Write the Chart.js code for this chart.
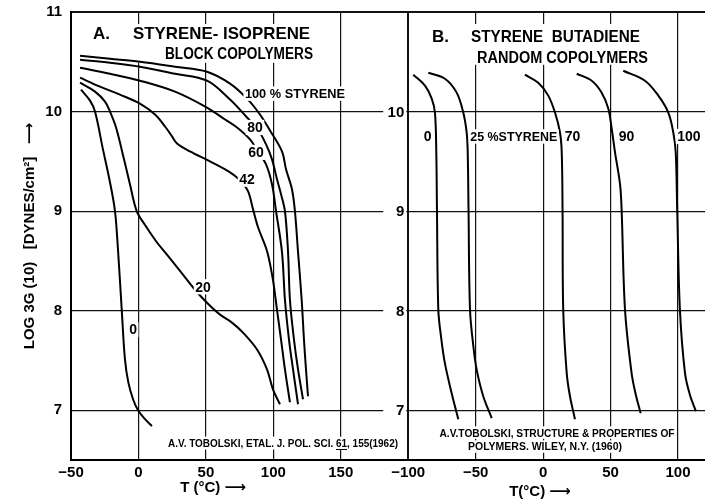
<!DOCTYPE html>
<html>

<head>
    <title>Modulus vs temperature, styrene copolymers</title>
    <script src="https://cdn.jsdelivr.net/npm/chart.js"></script>
    <style>
        body { margin: 0; background: #fff; }
        canvas { display: block; }
    </style>
</head>

<body>
    <canvas id="chart" width="705" height="503"></canvas>
    <script>
        // values: [T in degC, log 3G(10) in dynes/cm2]
        // A. styrene-isoprene block copolymers, by % styrene
        const block0 = [[-42.6, 10.22], [-35.9, 10.11], [-32.2, 10.00], [-26.3, 9.62], [-21.1, 9.29], [-17.4, 9.00], [-15.2, 8.62], [-12.4, 8.01], [-10.0, 7.51], [-7.5, 7.28], [-4.0, 7.11], [-0.3, 7.00], [4.9, 6.91], [10.0, 6.84]];
        const block20 = [[-43.3, 10.29], [-32.2, 10.20], [-24.8, 10.10], [-21.1, 10.00], [-16.6, 9.84], [-10.7, 9.52], [-6.3, 9.27], [-1.3, 9.00], [4.9, 8.86], [13.5, 8.69], [21.9, 8.55], [30.8, 8.40], [41.9, 8.21], [50.8, 8.08], [60.5, 7.96], [69.3, 7.88], [77.5, 7.78], [87.9, 7.61], [95.3, 7.41], [99.7, 7.21], [104.9, 7.06]];
        const block42 = [[-43.3, 10.34], [-28.5, 10.25], [-13.7, 10.17], [1.1, 10.08], [12.3, 9.97], [19.7, 9.85], [24.9, 9.75], [28.6, 9.68], [38.2, 9.60], [53.0, 9.50], [67.9, 9.39], [75.3, 9.31], [81.2, 9.20], [84.9, 9.02], [88.6, 8.84], [95.3, 8.60], [99.7, 8.31], [102.7, 8.01], [105.7, 7.71], [108.6, 7.41], [112.3, 7.08]];
        const block60 = [[-43.3, 10.44], [-21.1, 10.38], [1.1, 10.31], [27.1, 10.20], [50.8, 10.04], [64.2, 9.92], [73.1, 9.84], [82.7, 9.72], [88.6, 9.60], [94.6, 9.47], [99.0, 9.27], [102.0, 9.00], [106.4, 8.59], [108.6, 8.11], [111.6, 7.71], [114.6, 7.41], [118.3, 7.06]];
        const block80 = [[-43.3, 10.52], [-21.1, 10.49], [1.1, 10.45], [27.1, 10.38], [50.8, 10.31], [67.9, 10.12], [80.5, 9.94], [88.6, 9.82], [94.6, 9.67], [99.0, 9.52], [102.7, 9.32], [105.7, 9.17], [108.6, 9.00], [110.9, 8.59], [112.3, 8.11], [115.3, 7.71], [118.3, 7.41], [122.0, 7.11]];
        const block100 = [[-43.3, 10.56], [-21.1, 10.53], [1.1, 10.50], [27.1, 10.45], [50.8, 10.40], [67.9, 10.28], [81.2, 10.12], [90.1, 9.97], [97.5, 9.81], [106.4, 9.60], [109.4, 9.42], [113.8, 9.22], [116.0, 9.00], [118.3, 8.59], [121.0, 8.11], [122.7, 7.71], [124.2, 7.41], [125.7, 7.14]];
        const blockNames = ['0', '20', '42', '60', '80', '100'];

        // B. styrene-butadiene random copolymers, by % styrene
        const random0 = [[-96.3, 10.37], [-87.6, 10.26], [-82.6, 10.13], [-80.2, 9.99], [-79.2, 9.59], [-78.7, 9.01], [-77.7, 8.01], [-75.7, 7.74], [-72.8, 7.47], [-67.8, 7.17], [-62.9, 6.91]];
        const random25 = [[-85.1, 10.39], [-72.8, 10.33], [-64.1, 10.19], [-59.2, 9.99], [-56.7, 9.79], [-55.9, 9.59], [-55.3, 9.01], [-54.2, 8.01], [-51.7, 7.64], [-49.3, 7.41], [-44.4, 7.14], [-38.1, 6.92]];
        const random70 = [[-13.5, 10.37], [-3.6, 10.29], [3.8, 10.16], [8.8, 9.99], [12.5, 9.79], [13.8, 9.59], [14.4, 9.01], [14.9, 8.01], [17.5, 7.37], [19.9, 7.14], [23.6, 6.91]];
        const random90 = [[24.9, 10.38], [36.0, 10.31], [43.4, 10.19], [48.3, 10.03], [50.8, 9.83], [53.3, 9.59], [57.0, 9.27], [58.2, 9.01], [60.7, 8.01], [65.6, 7.37], [68.8, 7.15], [72.3, 6.97]];
        const random100 = [[59.4, 10.41], [75.5, 10.31], [85.4, 10.16], [92.8, 9.99], [96.5, 9.79], [98.3, 9.59], [99.4, 9.01], [101.4, 8.01], [105.2, 7.37], [108.9, 7.15], [113.3, 6.99]];
        const randomNames = ['0', '25', '70', '90', '100'];

        const xTicksA = [-50, 0, 50, 100, 150];
        const xTicksB = [-100, -50, 0, 50, 100];
        const yTicks = [7, 8, 9, 10, 11];

        // both panels share one x axis: panel B's -100 sits on panel A's 200
        const SHIFT_B = 300;
        const FONT = '"Liberation Sans", "DejaVu Sans", sans-serif';

        // text written on the plot, placed in data units of its panel
        const notes = [
            { panel: 'A', text: 'A.', t: -33.7, g: 10.79, size: 17 },
            { panel: 'A', text: 'STYRENE- ISOPRENE', t: -4.0, g: 10.79, size: 17, maxW: 177 },
            { panel: 'A', text: 'BLOCK COPOLYMERS', t: 19.7, g: 10.585, size: 16, maxW: 148 },
            { panel: 'A', text: '100 % STYRENE', t: 116, g: 10.18, size: 13, align: 'center', maxW: 100, box: true },
            { panel: 'A', text: '80', t: 86.4, g: 9.84, size: 14, align: 'center', box: true },
            { panel: 'A', text: '60', t: 87.1, g: 9.59, size: 14, align: 'center', box: true },
            { panel: 'A', text: '42', t: 80.5, g: 9.32, size: 14, align: 'center', box: true },
            { panel: 'A', text: '20', t: 47.9, g: 8.24, size: 14, align: 'center', box: true },
            { panel: 'A', text: '0', t: -4.0, g: 7.81, size: 14, align: 'center', box: true },
            { panel: 'A', text: 'A.V. TOBOLSKI, ETAL. J. POL. SCI. 61, 155(1962)', t: 21.9, g: 6.67, size: 11, maxW: 230, box: true, underline: '61' },
            { panel: 'A', text: 'T (°C) ⟶', t: 55.3, g: 6.23, size: 15, align: 'center' },
            { panel: 'B', text: 'B.', t: -82.4, g: 10.76, size: 17 },
            { panel: 'B', text: 'STYRENE  BUTADIENE', t: -53.5, g: 10.76, size: 17, maxW: 169 },
            { panel: 'B', text: 'RANDOM COPOLYMERS', t: -49.0, g: 10.54, size: 16, maxW: 171 },
            { panel: 'B', text: '0', t: -85.7, g: 9.75, size: 14, align: 'center', box: true },
            { panel: 'B', text: '25 %STYRENE', t: -54.0, g: 9.75, size: 13, maxW: 87, box: true },
            { panel: 'B', text: '70', t: 21.8, g: 9.75, size: 14, align: 'center', box: true },
            { panel: 'B', text: '90', t: 61.8, g: 9.75, size: 14, align: 'center', box: true },
            { panel: 'B', text: '100', t: 108.1, g: 9.75, size: 14, align: 'center', box: true },
            { panel: 'B', text: 'A.V.TOBOLSKI, STRUCTURE & PROPERTIES OF', t: 10.3, g: 6.775, size: 10.5, align: 'center', maxW: 235, box: true },
            { panel: 'B', text: 'POLYMERS. WILEY, N.Y. (1960)', t: 1.4, g: 6.635, size: 10.5, align: 'center', maxW: 154, box: true },
            { panel: 'B', text: 'T(°C) ⟶', t: -2.3, g: 6.19, size: 15, align: 'center' }
        ];
        // areas where the grid is left out behind the panel titles
        const blanks = [
            { panel: 'A', t0: -35, t1: 131, g0: 10.88, g1: 10.49 },
            { panel: 'B', t0: -86, t1: 80, g0: 10.88, g1: 10.47 }
        ];

        const tickLabel = v => {
            const n = v >= SHIFT_B + xTicksB[0] ? v - SHIFT_B : v;
            return n < 0 ? '\u2212' + Math.abs(n) : String(n);
        };

        const notesPlugin = {
            id: 'notes',
            beforeDatasetsDraw(chart) {
                const { ctx, scales: { x, y } } = chart;
                ctx.save();
                ctx.fillStyle = '#fff';
                blanks.forEach(b => {
                    const s = b.panel === 'B' ? SHIFT_B : 0;
                    const x0 = x.getPixelForValue(b.t0 + s), x1 = x.getPixelForValue(b.t1 + s);
                    const y0 = y.getPixelForValue(b.g0), y1 = y.getPixelForValue(b.g1);
                    ctx.fillRect(x0, y0, x1 - x0, y1 - y0);
                });
                ctx.restore();
            },
            afterDatasetsDraw(chart) {
                const { ctx, scales: { x, y } } = chart;
                ctx.save();
                ctx.textBaseline = 'middle';
                ctx.textAlign = 'left';

                // y labels repeated on the panel divider
                const xd = x.getPixelForValue(SHIFT_B + xTicksB[0]);
                ctx.font = 'bold 15px ' + FONT;
                yTicks.slice(0, -1).forEach(v => {
                    const py = y.getPixelForValue(v);
                    ctx.fillStyle = '#fff';
                    ctx.fillRect(xd - 25, py - 8, 23, 16);
                    ctx.fillStyle = '#000';
                    ctx.textAlign = 'right';
                    ctx.fillText(String(v), xd - 4, py + 1);
                });
                ctx.textAlign = 'left';

                notes.forEach(n => {
                    ctx.font = (n.weight || 'bold') + ' ' + n.size + 'px ' + FONT;
                    const s = n.panel === 'B' ? SHIFT_B : 0;
                    const px = x.getPixelForValue(n.t + s);
                    const py = y.getPixelForValue(n.g);
                    const natural = ctx.measureText(n.text).width;
                    const w = n.maxW ? Math.min(natural, n.maxW) : natural;
                    const k = w / natural;
                    const left = n.align === 'center' ? px - w / 2 : px;
                    const h = n.size * 0.8;
                    if (n.box) {
                        ctx.fillStyle = '#fff';
                        ctx.fillRect(left - 1.5, py - h / 2 - 2, w + 3, h + 4);
                    }
                    ctx.fillStyle = '#000';
                    ctx.fillText(n.text, left, py + 1, w);
                    if (n.underline) {
                        const i = n.text.indexOf(n.underline);
                        const u0 = left + ctx.measureText(n.text.slice(0, i)).width * k;
                        const uw = ctx.measureText(n.underline).width * k;
                        ctx.fillRect(u0, py + h / 2 + 1.5, uw, 1);
                    }
                });
                ctx.restore();
            }
        };

        const lineStyle = {
            showLine: true,
            pointRadius: 0,
            borderColor: '#000',
            borderWidth: 2,
            tension: 0.35,
            fill: false
        };

        const blockSeries = [block0, block20, block42, block60, block80, block100];
        const randomSeries = [random0, random25, random70, random90, random100];

        const datasets = [
            ...blockSeries.map((pts, i) => Object.assign({
                label: 'Block ' + blockNames[i] + '% styrene',
                data: pts.map(([t, g]) => ({ x: t, y: g }))
            }, lineStyle)),
            ...randomSeries.map((pts, i) => Object.assign({
                label: 'Random ' + randomNames[i] + '% styrene',
                data: pts.map(([t, g]) => ({ x: t + SHIFT_B, y: g }))
            }, lineStyle))
        ];

        const gridColor = '#111';

        new Chart(document.getElementById('chart'), {
            type: 'scatter',
            data: { datasets },
            options: {
                responsive: false,
                devicePixelRatio: 1,
                animation: false,
                layout: { padding: { top: 12, left: 0, right: 0, bottom: 0 } },
                plugins: {
                    legend: { display: false },
                    tooltip: { enabled: false }
                },
                scales: {
                    x: {
                        type: 'linear',
                        min: xTicksA[0],
                        max: SHIFT_B + 120,
                        afterBuildTicks: s => {
                            s.ticks = [...xTicksA, ...xTicksB.map(v => v + SHIFT_B)].map(v => ({ value: v }));
                        },
                        afterFit: s => { s.height = 43; },
                        grid: {
                            color: gridColor,
                            lineWidth: c => (c.tick && c.tick.value === SHIFT_B + xTicksB[0]) ? 2 : 1.2,
                            drawTicks: false
                        },
                        border: { color: '#000', width: 2 },
                        ticks: {
                            color: '#000',
                            padding: 4,
                            font: { family: FONT, size: 15, weight: 'bold' },
                            callback: v => tickLabel(v)
                        }
                    },
                    y: {
                        type: 'linear',
                        min: 6.5,
                        max: 11,
                        afterBuildTicks: s => {
                            s.ticks = yTicks.map(v => ({ value: v }));
                        },
                        // fixed width, and no extra room reserved for the top label
                        afterFit: s => { s.width = 71; s.paddingTop = 0; s.paddingBottom = 0; },
                        grid: {
                            color: gridColor,
                            lineWidth: c => (c.tick && c.tick.value === 11) ? 2 : 1.2,
                            drawTicks: false
                        },
                        border: { color: '#000', width: 2 },
                        ticks: {
                            color: '#000',
                            padding: 9,
                            font: { family: FONT, size: 15, weight: 'bold' },
                            callback: v => String(v)
                        },
                        title: {
                            display: true,
                            text: 'LOG 3G (10)   [DYNES/cm\u00b2]   \u27f6',
                            color: '#000',
                            font: { family: FONT, size: 15, weight: 'bold' },
                            padding: { top: 21, bottom: 0 }
                        }
                    }
                }
            },
            plugins: [notesPlugin]
        });
    </script>
</body>

</html>
